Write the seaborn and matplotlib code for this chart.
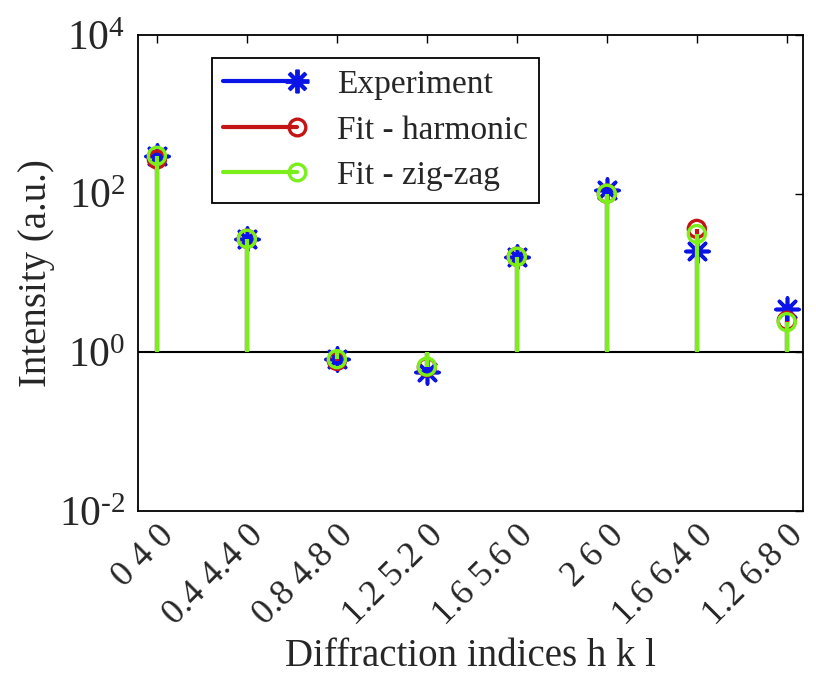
import numpy as np
import pandas as pd
import matplotlib
matplotlib.use("Agg")
import matplotlib.pyplot as plt
import seaborn as sns
from matplotlib.lines import Line2D
from matplotlib.legend_handler import HandlerBase
from matplotlib.ticker import FuncFormatter, NullLocator

# ---- data ----
hkl_labels = ["0 4 0", "0.4 4.4 0", "0.8 4.8 0", "1.2 5.2 0",
              "1.6 5.6 0", "2 6 0", "1.6 6.4 0", "1.2 6.8 0"]
experiment = [300, 27, 0.82, 0.57, 16, 110, 19, 3.5]
fit_harmonic = [270, 27, 0.78, 0.65, 16, 100, 36, 2.5]
fit_zigzag = [300, 27, 0.82, 0.66, 16, 100, 31, 2.4]
y_ticks = [1e-2, 1e0, 1e2, 1e4]

series_names = ["Experiment", "Fit - harmonic", "Fit - zig-zag"]
colors = {"Experiment": "#0a14e6", "Fit - harmonic": "#c41414", "Fit - zig-zag": "#7aef1a"}
markers = {"Experiment": (8, 2, 0), "Fit - harmonic": "o", "Fit - zig-zag": "o"}

pos = np.arange(1, len(hkl_labels) + 1)
df = pd.DataFrame({
    "pos": np.tile(pos, 3),
    "value": experiment + fit_harmonic + fit_zigzag,
    "series": np.repeat(series_names, len(pos)),
})

sns.set_theme(style="white")
plt.rcParams["font.family"] = ["Liberation Serif", "DejaVu Serif"]
plt.rcParams["mathtext.fontset"] = "custom"
plt.rcParams["mathtext.rm"] = "Liberation Serif"
plt.rcParams["mathtext.it"] = "Liberation Serif:italic"
plt.rcParams["axes.unicode_minus"] = False

fig = plt.figure(figsize=(8.16, 6.85), dpi=100)
ax = fig.add_axes([138 / 816, 1 - 511 / 685, 665 / 816, 476 / 685])

for i, name in enumerate(series_names):
    sub = df[df["series"] == name]
    ax.vlines(sub["pos"], 1, sub["value"], color=colors[name], lw=3.0, zorder=2 + i)
    is_exp = name == "Experiment"
    sns.scatterplot(data=sub, x="pos", y="value", ax=ax, marker=markers[name],
                    s=270 if is_exp else 150,
                    facecolor=colors[name] if is_exp else "none",
                    edgecolor=colors[name], linewidth=2.6 if is_exp else 2.4,
                    zorder=2.5 + i, legend=False)

ax.axhline(1, color="black", lw=1.5, zorder=1.5)
ax.set_yscale("log")
ax.set_ylim(1e-2, 1e4)
ax.set_xlim(0.79, 8.18)
ax.set_yticks(y_ticks)


def fmt(v, p):
    e = int(round(np.log10(v)))
    if e < 0:
        return r"$\mathregular{10^{\text{-}%d}}$" % (-e)
    return r"$\mathregular{10^{%d}}$" % e


ax.yaxis.set_major_formatter(FuncFormatter(fmt))
ax.yaxis.set_minor_locator(NullLocator())
ax.set_xticks(pos)
ax.set_xticklabels(hkl_labels, rotation=45, ha="right", rotation_mode="anchor")

ax.tick_params(axis="both", direction="in", top=True, right=True, length=6,
               width=1.0, color="black", labelsize=26, pad=6)
ax.tick_params(axis="y", labelsize=30, pad=9)
for sp in ax.spines.values():
    sp.set_color("black")
    sp.set_linewidth(1.3)

ax.set_xlabel("Diffraction indices h k l", fontsize=28, labelpad=4)
ax.set_ylabel("Intensity (a.u.)", fontsize=28, va="center")
ax.yaxis.set_label_coords(-0.153, 0.5)


class StemHandler(HandlerBase):
    def create_artists(self, legend, orig_handle, xdescent, ydescent, width,
                       height, fontsize, trans):
        y = height / 2 - ydescent
        c = orig_handle.get_color()
        line = Line2D([-xdescent, width - xdescent], [y, y], color=c, lw=3.0)
        is_exp = orig_handle.get_marker() != "o"
        mk = Line2D([width - xdescent], [y], marker=orig_handle.get_marker(),
                    markersize=orig_handle.get_markersize(),
                    markerfacecolor="none", markeredgecolor=c,
                    markeredgewidth=2.8 if is_exp else 2.4, linestyle="none")
        line.set_transform(trans)
        mk.set_transform(trans)
        return [line, mk]


handles = [Line2D([], [], color=colors[n], marker=markers[n],
                  markersize=17 if n == "Experiment" else 12) for n in series_names]
leg = ax.legend(handles, series_names, loc="upper left",
                bbox_to_anchor=(0.111, 0.952), fontsize=24, frameon=True,
                fancybox=False, edgecolor="black", framealpha=1,
                handlelength=2.2, handletextpad=1.2, borderpad=0.35,
                labelspacing=0.45, borderaxespad=0,
                handler_map={Line2D: StemHandler()})
leg.get_frame().set_linewidth(1.3)

fig.savefig("out.png", dpi=100, facecolor="white")
